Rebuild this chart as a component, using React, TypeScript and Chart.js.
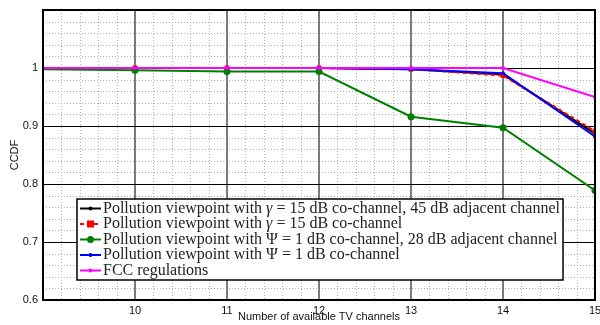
import React, { useEffect, useRef } from "react";
import { Chart, registerables } from "chart.js";

Chart.register(...registerables);

const channels = [9, 10, 11, 12, 13, 14, 15];
const gamma45Adj = [1, 1, 1, 1, 0.998, 0.989, 0.887];
const gammaCo = [1, 1, 1, 1, 0.998, 0.987, 0.891];
const psi28Adj = [0.998, 0.996, 0.994, 0.994, 0.916, 0.897, 0.789];
const psiCo = [1, 1, 1, 1, 0.998, 0.991, 0.882];
const fcc = [1, 1, 1, 1, 1, 1, 0.95];

const xTicks = [10, 11, 12, 13, 14, 15];
const yTicks = [0.6, 0.7, 0.8, 0.9, 1];

type LegendItem = { pre: string; sym?: string; post: string; color: string; dash: number[]; style: string; r: number };

const legendItems: LegendItem[] = [
  { pre: "Pollution viewpoint with ", sym: "γ", post: " = 15 dB co-channel, 45 dB adjacent channel", color: "#000000", dash: [], style: "circle", r: 2 },
  { pre: "Pollution viewpoint with ", sym: "γ", post: " = 15 dB co-channel", color: "#ff0000", dash: [4, 3], style: "rect", r: 3.5 },
  { pre: "Pollution viewpoint with Ψ = 1 dB co-channel, 28 dB adjacent channel", post: "", color: "#008000", dash: [], style: "circle", r: 3.5 },
  { pre: "Pollution viewpoint with Ψ = 1 dB co-channel", post: "", color: "#0000ff", dash: [], style: "circle", r: 2 },
  { pre: "FCC regulations", post: "", color: "#ff00ff", dash: [], style: "circle", r: 2 },
];

const toPts = (vals: number[]) => channels.map((c, i) => ({ x: c, y: vals[i] }));

function drawMarker(ctx: CanvasRenderingContext2D, style: string, x: number, y: number, r: number, color: string) {
  ctx.save();
  ctx.setLineDash([]);
  ctx.fillStyle = color;
  ctx.beginPath();
  if (style === "rect") ctx.rect(x - r, y - r, 2 * r, 2 * r);
  else ctx.arc(x, y, r, 0, Math.PI * 2);
  ctx.fill();
  ctx.restore();
}

const gridPlugin = {
  id: "matlabGrid",
  beforeDatasetsDraw(chart: any) {
    const { ctx, chartArea: a, scales } = chart;
    const xs = scales.x, ys = scales.y;
    ctx.save();
    ctx.strokeStyle = "#b0b0b0";
    ctx.lineWidth = 1;
    ctx.setLineDash([1, 2]);
    for (let v = 9; v <= 15.0001; v += 0.2) {
      const px = Math.round(xs.getPixelForValue(v)) + 0.5;
      ctx.beginPath(); ctx.moveTo(px, a.top); ctx.lineTo(px, a.bottom); ctx.stroke();
    }
    for (let v = 0.6; v <= 1.1001; v += 0.02) {
      const py = Math.round(ys.getPixelForValue(v)) + 0.5;
      ctx.beginPath(); ctx.moveTo(a.left, py); ctx.lineTo(a.right, py); ctx.stroke();
    }
    ctx.setLineDash([]);
    ctx.strokeStyle = "#7a7a7a";
    ctx.lineWidth = 2;
    xTicks.forEach((v) => {
      const px = Math.round(xs.getPixelForValue(v));
      ctx.beginPath(); ctx.moveTo(px, a.top); ctx.lineTo(px, a.bottom); ctx.stroke();
    });
    ctx.strokeStyle = "#000000";
    ctx.lineWidth = 1;
    yTicks.forEach((v) => {
      const py = Math.round(ys.getPixelForValue(v)) + 0.5;
      ctx.beginPath(); ctx.moveTo(a.left, py); ctx.lineTo(a.right, py); ctx.stroke();
    });
    ctx.restore();
  },
  afterDatasetsDraw(chart: any) {
    const { ctx, chartArea: a } = chart;
    ctx.save();
    ctx.strokeStyle = "#000";
    ctx.lineWidth = 2;
    ctx.strokeRect(a.left, a.top, a.right - a.left, a.bottom - a.top);
    const bx = 77, by = 199, bw = 486, bh = 81;
    ctx.fillStyle = "#fff";
    ctx.fillRect(bx, by, bw, bh);
    ctx.strokeStyle = "#000";
    ctx.lineWidth = 1.5;
    ctx.strokeRect(bx, by, bw, bh);
    const rowH = 15.5;
    const font = "16px 'Liberation Serif', serif";
    const italic = "italic 16px 'Liberation Serif', serif";
    legendItems.forEach((it, i) => {
      const cy = by + 9.5 + i * rowH;
      ctx.strokeStyle = it.color;
      ctx.lineWidth = 2;
      ctx.setLineDash(it.dash);
      ctx.beginPath(); ctx.moveTo(bx + 3, cy); ctx.lineTo(bx + 24, cy); ctx.stroke();
      ctx.setLineDash([]);
      drawMarker(ctx, it.style, bx + 13.5, cy, it.r, it.color);
      ctx.fillStyle = "#222";
      ctx.textBaseline = "middle";
      ctx.textAlign = "left";
      let tx = bx + 26;
      ctx.font = font;
      ctx.fillText(it.pre, tx, cy);
      tx += ctx.measureText(it.pre).width;
      if (it.sym) {
        ctx.font = italic;
        ctx.fillText(it.sym, tx, cy);
        tx += ctx.measureText(it.sym).width;
      }
      ctx.font = font;
      ctx.fillText(it.post, tx, cy);
    });
    ctx.restore();
  },
};

const hideFirst = (r: number) => (c: any) => (c.dataIndex === 0 ? 0 : r);

export default function App() {
  const ref = useRef<HTMLCanvasElement | null>(null);
  useEffect(() => {
    document.body.style.margin = "0";
    const canvas = ref.current;
    if (!canvas) return;
    const mk = (label: string, vals: number[], color: string, style: string, r: number, order: number, dash: number[] = []) => ({
      label,
      data: toPts(vals),
      borderColor: color,
      backgroundColor: color,
      borderWidth: 2,
      borderDash: dash,
      pointStyle: style,
      pointRadius: hideFirst(r),
      pointBorderWidth: 0,
      pointBackgroundColor: color,
      tension: 0,
      order,
    });
    const chart = new Chart(canvas, {
      type: "line",
      data: {
        datasets: [
          mk("γ=15 dB co-channel, 45 dB adjacent", gamma45Adj, "#000000", "circle", 2, 5),
          mk("γ=15 dB co-channel", gammaCo, "#ff0000", "rect", 3.5, 4, [4, 3]),
          mk("Ψ=1 dB co-channel, 28 dB adjacent", psi28Adj, "#008000", "circle", 3.5, 3),
          mk("Ψ=1 dB co-channel", psiCo, "#0000ff", "circle", 2, 2),
          mk("FCC regulations", fcc, "#ff00ff", "circle", 2, 1),
        ],
      },
      options: {
        responsive: false,
        animation: false,
        layout: { padding: { top: 10, right: 5, left: 0, bottom: 0 } },
        plugins: { legend: { display: false }, tooltip: { enabled: false } },
        scales: {
          x: {
            type: "linear",
            min: 9,
            max: 15,
            grid: { display: false, drawTicks: false },
            border: { display: false },
            afterBuildTicks: (s: any) => { s.ticks = xTicks.map((v) => ({ value: v })); },
            ticks: { color: "#111", padding: 4, maxRotation: 0, autoSkip: false, font: { family: "'Liberation Sans', Arial, sans-serif", size: 11 }, callback: (v: any) => String(v) },
            title: { display: true, text: "Number of available TV channels", color: "#111", font: { family: "'Liberation Sans', Arial, sans-serif", size: 11 }, padding: { top: 0, bottom: 1 } },
            afterFit: (s: any) => { s.height = 25; s.paddingRight = 0; s.paddingLeft = 0; },
          },
          y: {
            type: "linear",
            min: 0.6,
            max: 1.1,
            grid: { display: false, drawTicks: false },
            border: { display: false },
            afterBuildTicks: (s: any) => { s.ticks = yTicks.map((v) => ({ value: v })); },
            ticks: { color: "#111", padding: 5, autoSkip: false, font: { family: "'Liberation Sans', Arial, sans-serif", size: 11 }, callback: (v: any) => String(parseFloat(Number(v).toFixed(2))) },
            title: { display: true, text: "CCDF", color: "#111", font: { family: "'Liberation Sans', Arial, sans-serif", size: 11 }, padding: { top: 8, bottom: 0 } },
            afterFit: (s: any) => { s.width = 43; s.paddingTop = 0; s.paddingBottom = 0; },
          },
        },
      },
      plugins: [gridPlugin],
    } as any);
    return () => chart.destroy();
  }, []);
  return (
    <div style={{ width: 600, height: 325 }}>
      <canvas ref={ref} width={600} height={325} />
    </div>
  );
}
